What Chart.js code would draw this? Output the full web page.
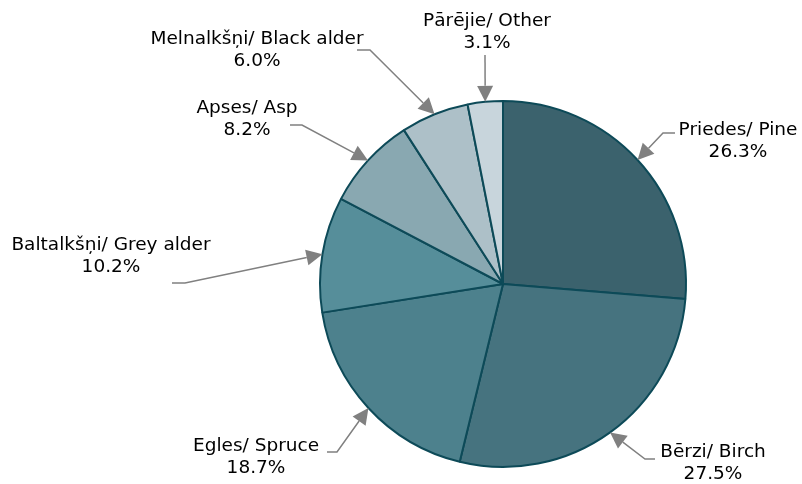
<!DOCTYPE html>
<html>
<head>
<meta charset="utf-8">
<script src="https://cdn.jsdelivr.net/npm/chart.js@4/dist/chart.umd.min.js"></script>
<style>
    html, body { margin: 0; padding: 0; background: #fff; }
    #wrap { width: 802px; height: 484px; position: relative; }
</style>
</head>
<body>
<div id="wrap"><canvas id="pieChart"></canvas></div>
<script>
// Data
const categories = ['Priedes/ Pine', 'Bērzi/ Birch', 'Egles/ Spruce', 'Baltalkšņi/ Grey alder', 'Apses/ Asp', 'Melnalkšņi/ Black alder', 'Pārējie/ Other'];
const shares = [26.3, 27.5, 18.7, 10.2, 8.2, 6.0, 3.1];
const sliceColors = ['#3b626d', '#46737f', '#4d818d', '#568e9a', '#89a8b1', '#adc0c8', '#c8d5dc'];

// Label placement: text centre (x, first line y) and leader start/elbow
const labelLayout = [
    { tx: 738, ty: 130, start: [675, 133], elbow: [663, 133] },
    { tx: 713, ty: 452, start: [655, 459], elbow: [645, 459] },
    { tx: 256, ty: 446, start: [327, 452], elbow: [337, 452] },
    { tx: 111, ty: 245, start: [172, 283], elbow: [185, 283] },
    { tx: 247, ty: 108, start: [290, 125], elbow: [302, 125] },
    { tx: 257, ty: 39, start: [357, 50], elbow: [370, 50] },
    { tx: 487, ty: 21, start: [485, 55], elbow: [485, 55] }
];

// Draws leader arrows and two-line labels
const leaderLabels = {
    id: 'leaderLabels',
    afterDraw(chart) {
        const ctx = chart.ctx;
        const arcs = chart.getDatasetMeta(0).data;
        ctx.save();
        arcs.forEach(function(arc, i) {
            const p = arc.getProps(['x', 'y', 'startAngle', 'endAngle', 'outerRadius'], true);
            const mid = (p.startAngle + p.endAngle) / 2;
            const tip = [p.x + Math.cos(mid) * p.outerRadius, p.y + Math.sin(mid) * p.outerRadius];
            const lay = labelLayout[i];
            const dx = tip[0] - lay.elbow[0], dy = tip[1] - lay.elbow[1];
            const len = Math.sqrt(dx * dx + dy * dy);
            const ux = dx / len, uy = dy / len;
            const headLen = 16, headHalf = 8;
            const base = [tip[0] - ux * headLen, tip[1] - uy * headLen];

            ctx.strokeStyle = '#808080';
            ctx.lineWidth = 1.5;
            ctx.beginPath();
            ctx.moveTo(lay.start[0], lay.start[1]);
            ctx.lineTo(lay.elbow[0], lay.elbow[1]);
            ctx.lineTo(base[0], base[1]);
            ctx.stroke();

            ctx.fillStyle = '#808080';
            ctx.beginPath();
            ctx.moveTo(tip[0], tip[1]);
            ctx.lineTo(base[0] - uy * headHalf, base[1] + ux * headHalf);
            ctx.lineTo(base[0] + uy * headHalf, base[1] - ux * headHalf);
            ctx.closePath();
            ctx.fill();

            ctx.fillStyle = '#000';
            ctx.font = '18.5px "DejaVu Sans", Verdana, sans-serif';
            ctx.textAlign = 'center';
            ctx.textBaseline = 'middle';
            ctx.fillText(categories[i], lay.tx, lay.ty);
            ctx.fillText(shares[i].toFixed(1) + '%', lay.tx, lay.ty + 22);
        });
        ctx.restore();
    }
};

const ctx = document.getElementById('pieChart').getContext('2d');
const pieChart = new Chart(ctx, {
    type: 'pie',
    data: {
        labels: categories,
        datasets: [{
            data: shares,
            backgroundColor: sliceColors,
            borderColor: '#0d4a58',
            borderWidth: 2
        }]
    },
    options: {
        responsive: true,
        maintainAspectRatio: false,
        animation: false,
        events: [],
        layout: {
            padding: { left: 319, right: 115, top: 100, bottom: 16 }
        },
        plugins: {
            legend: { display: false },
            tooltip: { enabled: false }
        }
    },
    plugins: [leaderLabels]
});
</script>
</body>
</html>
